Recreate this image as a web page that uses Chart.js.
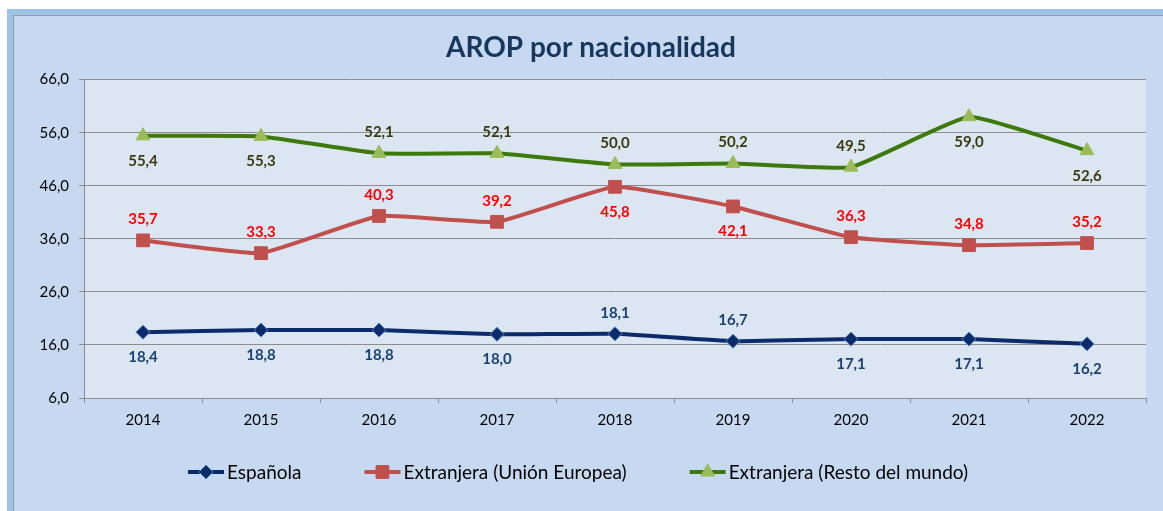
<!DOCTYPE html>
<html lang="es">
<head>
<meta charset="utf-8">
<title>AROP por nacionalidad</title>
<script src="https://cdn.jsdelivr.net/npm/chart.js@4.4.0/dist/chart.umd.min.js"></script>
<style>
  html, body { margin: 0; padding: 0; width: 1163px; height: 511px; overflow: hidden; background: #fff; }
  #marco { position: absolute; left: 7px; top: 9px; width: 1200px; height: 560px; background: #9dc3e6; }
  #fondo { position: absolute; left: 6px; top: 6px; right: 0; bottom: 0; background: #c6d9f0;
           border-left: 1px solid #9a9a9a; border-top: 1px solid #9a9a9a; }
  #grafico { position: absolute; left: 0; top: 0; }
</style>
</head>
<body>
<div id="marco"><div id="fondo"></div></div>
<canvas id="grafico" width="1163" height="511"></canvas>
<script>
const anios = ["2014", "2015", "2016", "2017", "2018", "2019", "2020", "2021", "2022"];
const espanola = [18.4, 18.8, 18.8, 18.0, 18.1, 16.7, 17.1, 17.1, 16.2];
const extranjeraUE = [35.7, 33.3, 40.3, 39.2, 45.8, 42.1, 36.3, 34.8, 35.2];
const extranjeraResto = [55.4, 55.3, 52.1, 52.1, 50.0, 50.2, 49.5, 59.0, 52.6];
const ticksY = [6, 16, 26, 36, 46, 56, 66];

// donde va cada etiqueta: a = arriba, b = abajo
const posEtiquetas = [
  ["b", "b", "b", "b", "a", "a", "b", "b", "b"],
  ["a", "a", "a", "a", "b", "b", "a", "a", "a"],
  ["b", "b", "a", "a", "a", "a", "a", "b", "b"],
];
const coloresEtiqueta = ["#1a4373", "#ff0000", "#3b3b12"];

const numero = (v) => v.toFixed(1).replace(".", ",");

const fondoPlot = {
  id: "fondoPlot",
  beforeDraw(chart) {
    const { ctx, chartArea: a } = chart;
    ctx.save();
    ctx.fillStyle = "#dce6f2";
    ctx.fillRect(a.left, a.top, a.right - a.left, a.bottom - a.top);
    ctx.restore();
  },
};

const etiquetas = {
  id: "etiquetas",
  afterDatasetsDraw(chart) {
    const ctx = chart.ctx;
    ctx.save();
    ctx.font = "bold 15px Lato";
    ctx.textAlign = "center";
    ctx.textBaseline = "middle";
    chart.data.datasets.forEach((ds, i) => {
      ctx.fillStyle = coloresEtiqueta[i];
      chart.getDatasetMeta(i).data.forEach((pt, j) => {
        const dy = posEtiquetas[i][j] === "a" ? -21 : 25;
        ctx.fillText(numero(ds.data[j]), pt.x, pt.y + dy);
      });
    });
    ctx.restore();
  },
};

const leyenda = {
  id: "leyenda",
  afterDraw(chart) {
    const ctx = chart.ctx;
    ctx.save();
    ctx.font = "19px Lato";
    ctx.textBaseline = "middle";
    ctx.textAlign = "left";
    const y = chart.chartArea.bottom + 74;
    const simbolo = 36, hueco = 3, sep = 63;
    const sets = chart.data.datasets;
    const anchos = sets.map((ds) => ctx.measureText(ds.label).width);
    const total = anchos.reduce((s, w) => s + simbolo + hueco + w, 0) + sep * (sets.length - 1);
    let x = Math.round(chart.width / 2 - total / 2 - 3);
    sets.forEach((ds, i) => {
      ctx.strokeStyle = ds.borderColor;
      ctx.lineWidth = 4;
      ctx.beginPath();
      ctx.moveTo(x, y);
      ctx.lineTo(x + simbolo, y);
      ctx.stroke();
      ctx.fillStyle = ds.pointBackgroundColor;
      ctx.strokeStyle = ds.pointBorderColor;
      ctx.lineWidth = ds.pointBorderWidth;
      Chart.helpers.drawPoint(ctx, {
        pointStyle: ds.pointStyle,
        radius: ds.pointRadius,
        rotation: 0,
        borderWidth: ds.pointBorderWidth,
      }, x + simbolo / 2, y);
      ctx.fillStyle = "#000";
      ctx.fillText(ds.label, x + simbolo + hueco, y + 1);
      x += simbolo + hueco + anchos[i] + sep;
    });
    ctx.restore();
  },
};

const config = {
  type: "line",
  data: {
    labels: anios,
    datasets: [
      {
        label: "Española",
        data: espanola,
        borderColor: "#0d2a6b",
        borderWidth: 4,
        pointStyle: "rectRot",
        pointRadius: 7,
        pointBackgroundColor: "#0d2a6b",
        pointBorderColor: "#4f81bd",
        pointBorderWidth: 1,
        tension: 0.12,
      },
      {
        label: "Extranjera (Unión Europea)",
        data: extranjeraUE,
        borderColor: "#c0504d",
        borderWidth: 4,
        pointStyle: "rect",
        pointRadius: 9,
        pointBackgroundColor: "#c0504d",
        pointBorderColor: "#c0504d",
        pointBorderWidth: 1,
        tension: 0.12,
      },
      {
        label: "Extranjera (Resto del mundo)",
        data: extranjeraResto,
        borderColor: "#3e7a0b",
        borderWidth: 4,
        pointStyle: "triangle",
        pointRadius: 8,
        pointBackgroundColor: "#9bbb59",
        pointBorderColor: "#9bbb59",
        pointBorderWidth: 1,
        tension: 0.12,
      },
    ],
  },
  options: {
    responsive: false,
    animation: false,
    layout: { padding: { top: 0, right: 17, bottom: 74, left: 36 } },
    plugins: {
      legend: { display: false },
      tooltip: { enabled: false },
      title: {
        display: true,
        text: "AROP por nacionalidad",
        color: "#17375e",
        font: { family: "Lato", size: 28, weight: "bold" },
        padding: { top: 31, bottom: 15 },
      },
    },
    scales: {
      x: {
        offset: true,
        grid: { offset: true, drawOnChartArea: false, drawTicks: true, tickLength: 5, color: "#8c8c8c" },
        border: { display: true, color: "#8c8c8c", width: 1 },
        ticks: { color: "#000", font: { family: "Lato", size: 15 }, padding: 8 },
      },
      y: {
        min: 6,
        max: 66,
        afterFit: (scale) => { scale.width = 48; },
        afterBuildTicks: (scale) => { scale.ticks = ticksY.map((v) => ({ value: v })); },
        grid: { color: "#8c8c8c", tickLength: 5 },
        border: { display: true, color: "#8c8c8c", width: 1 },
        ticks: { color: "#000", font: { family: "Lato", size: 15 }, padding: 10, callback: (v) => numero(v) },
      },
    },
  },
  plugins: [fondoPlot, etiquetas, leyenda],
};

const canvas = document.getElementById("grafico");
const ctx = canvas.getContext("2d");
const miGrafico = new Chart(ctx, config);
</script>
</body>
</html>
